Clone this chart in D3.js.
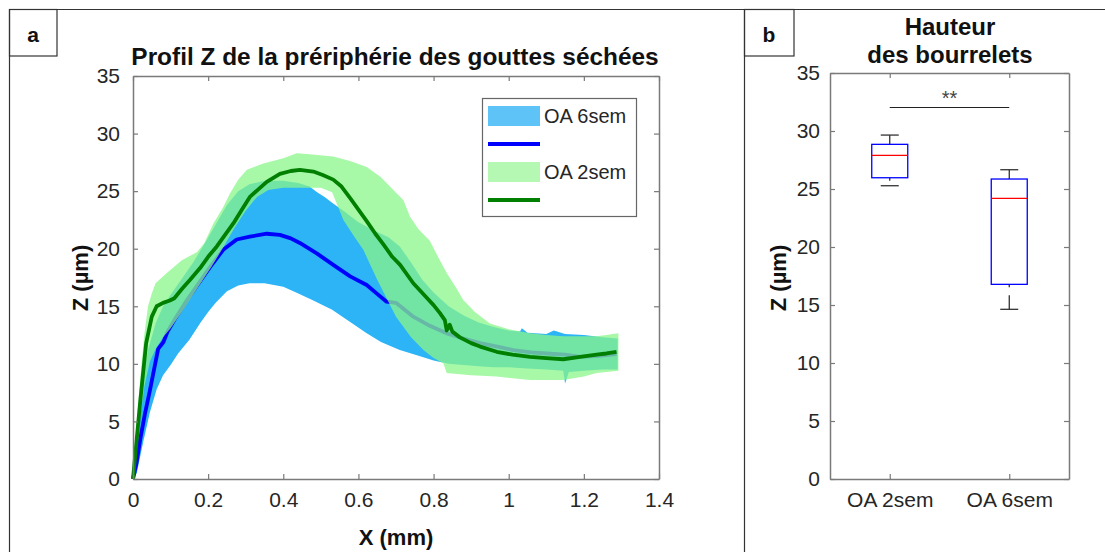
<!DOCTYPE html>
<html>
<head>
<meta charset="utf-8">
<script src="https://cdn.jsdelivr.net/npm/d3@7"></script>
<style>
  html, body { margin: 0; padding: 0; background: #fff; }
  svg { display: block; font-family: "Liberation Sans", Arial, sans-serif; }
</style>
</head>
<body>
<svg id="chart" width="1105" height="552"></svg>
<script>
// ---------- Panel a data : Z profile (X in mm, Z in µm) ----------
const xTicksA = [0, 0.2, 0.4, 0.6, 0.8, 1, 1.2, 1.4];
const yTicks = [0, 5, 10, 15, 20, 25, 30, 35];

const oa6Upper = [[0,0],[0.01,3.5],[0.02,7],[0.03,9.5],[0.04,11.2],[0.06,13.5],[0.08,15],[0.10,16.0],[0.13,17.4],[0.16,18.8],[0.19,20.4],[0.22,22.1],[0.25,23.8],[0.28,25.0],[0.31,25.6],[0.35,25.9],[0.40,25.9],[0.44,25.7],[0.47,25.4],[0.49,24.9],[0.51,24.5],[0.53,24.0],[0.56,23.3],[0.60,22.3],[0.64,21.6],[0.68,21.0],[0.71,20.2],[0.74,18.8],[0.77,17.3],[0.80,16.2],[0.84,15.0],[0.88,14.2],[0.92,13.6],[0.96,13.2],[1.00,12.9],[1.03,12.8],[1.035,13.1],[1.05,12.7],[1.10,12.6],[1.12,12.9],[1.15,12.6],[1.20,12.5],[1.25,12.3],[1.29,12.2]];
const oa6Lower = [[0,0],[0.01,0.5],[0.027,3.2],[0.045,5.8],[0.063,7.8],[0.08,9.0],[0.10,9.9],[0.12,10.9],[0.15,12.1],[0.18,13.6],[0.20,14.5],[0.22,15.3],[0.25,16.3],[0.28,16.8],[0.31,17.0],[0.35,17.0],[0.40,16.7],[0.44,16.1],[0.48,15.5],[0.53,14.7],[0.58,13.6],[0.62,12.7],[0.66,11.9],[0.71,11.2],[0.76,10.7],[0.80,10.3],[0.84,10.0],[0.88,9.9],[0.92,9.8],[0.96,9.7],[1.00,9.7],[1.05,9.6],[1.10,9.5],[1.145,9.4],[1.15,8.3],[1.16,9.3],[1.20,9.4],[1.25,9.5],[1.29,9.5]];
const oa6Mean = [[0,0],[0.01,1.5],[0.019,3.4],[0.032,5.7],[0.045,7.7],[0.059,10.0],[0.067,11.3],[0.081,11.9],[0.092,12.8],[0.11,13.8],[0.143,15.5],[0.175,17.0],[0.205,18.4],[0.24,19.9],[0.276,20.8],[0.311,21.05],[0.356,21.3],[0.391,21.2],[0.42,20.9],[0.444,20.5],[0.489,19.6],[0.533,18.6],[0.578,17.6],[0.622,16.85],[0.649,16.1],[0.675,15.4],[0.70,15.3],[0.746,14.1],[0.79,13.3],[0.835,12.65],[0.88,12.2],[0.924,11.8],[0.97,11.5],[1.012,11.2],[1.06,11.0],[1.101,10.9],[1.15,10.8],[1.19,10.6],[1.24,10.7],[1.287,10.85]];

const oa2Upper = [[0,0],[0.01,5],[0.02,9],[0.03,12.5],[0.04,15.0],[0.05,16.1],[0.06,17.0],[0.09,17.9],[0.13,19.0],[0.17,19.7],[0.19,20.5],[0.214,22.2],[0.24,23.6],[0.258,24.8],[0.28,26.0],[0.303,26.85],[0.347,27.4],[0.40,27.85],[0.436,28.3],[0.47,28.2],[0.533,28.0],[0.58,27.6],[0.622,27.1],[0.66,26.2],[0.693,25.1],[0.72,24.2],[0.737,22.8],[0.76,21.7],[0.79,20.7],[0.81,19.4],[0.835,17.9],[0.86,16.6],[0.879,15.55],[0.91,14.5],[0.95,13.5],[1.00,13.0],[1.057,12.65],[1.10,12.5],[1.145,12.4],[1.19,12.4],[1.234,12.4],[1.26,12.5],[1.292,12.65]];
const oa2Lower = [[0,0],[0.01,2.5],[0.02,5.5],[0.03,8],[0.045,10.2],[0.06,11.3],[0.08,12.3],[0.10,13.1],[0.13,14.5],[0.16,16.0],[0.19,17.5],[0.21,18.5],[0.24,20.1],[0.27,21.8],[0.30,23.3],[0.33,24.5],[0.36,25.1],[0.40,25.3],[0.45,25.3],[0.50,25.3],[0.53,24.9],[0.56,22.5],[0.59,21.0],[0.613,19.9],[0.65,17.3],[0.70,14.1],[0.74,12.3],[0.773,11.2],[0.80,10.5],[0.826,10.05],[0.835,9.2],[0.90,9.0],[0.968,8.9],[1.057,8.6],[1.10,8.6],[1.145,8.6],[1.20,8.9],[1.234,9.2],[1.292,9.4]];
const oa2Mean = [[0,0],[0.01,3.5],[0.02,7],[0.035,11.8],[0.05,14.1],[0.063,15.0],[0.08,15.3],[0.098,15.5],[0.11,15.7],[0.13,16.5],[0.152,17.3],[0.178,18.3],[0.20,19.3],[0.223,20.2],[0.245,21.2],[0.267,22.2],[0.29,23.4],[0.311,24.5],[0.335,25.2],[0.356,25.8],[0.391,26.5],[0.42,26.75],[0.444,26.85],[0.48,26.7],[0.505,26.4],[0.533,26.0],[0.555,25.4],[0.578,24.4],[0.60,23.4],[0.622,22.4],[0.645,21.3],[0.666,20.4],[0.69,19.3],[0.711,18.6],[0.746,17.0],[0.78,15.8],[0.80,15.1],[0.817,14.4],[0.83,13.8],[0.835,12.9],[0.843,13.4],[0.85,12.8],[0.87,12.3],[0.90,11.8],[0.924,11.5],[0.968,11.05],[1.01,10.8],[1.057,10.6],[1.10,10.5],[1.145,10.4],[1.19,10.6],[1.234,10.8],[1.26,10.9],[1.287,11.05]];

const legendLabels = ["OA 6sem", "", "OA 2sem", ""];

// ---------- Panel b data : box plot ----------
const boxGroups = ["OA 2sem", "OA 6sem"];
const boxWhiskerLow = [25.28, 14.63];
const boxQ1 = [25.97, 16.78];
const boxMedian = [27.9, 24.2];
const boxQ3 = [28.85, 25.86];
const boxWhiskerHigh = [29.65, 26.66];
const signifLabel = "**";

// ---------- drawing ----------
const svg = d3.select("#chart");
const FONT = '"Liberation Sans", Arial, sans-serif';
const AX = "#7a7a7a", TXT = "#262626";

// frame
const frame = svg.append("g").attr("fill", "none").attr("stroke", "#333").attr("stroke-width", 1.2);
frame.append("line").attr("x1", 9).attr("x2", 1105).attr("y1", 9.5).attr("y2", 9.5);
frame.append("line").attr("x1", 9.5).attr("x2", 9.5).attr("y1", 9).attr("y2", 552);
frame.append("line").attr("x1", 744.5).attr("x2", 744.5).attr("y1", 9).attr("y2", 552);
frame.append("rect").attr("x", 9.5).attr("y", 9.5).attr("width", 47.5).attr("height", 46.5);
frame.append("rect").attr("x", 744.5).attr("y", 9.5).attr("width", 49.5).attr("height", 46.5);
svg.append("text").attr("x", 33).attr("y", 42).attr("text-anchor", "middle")
  .attr("font-weight", "bold").attr("font-size", 21).attr("fill", "#111").text("a");
svg.append("text").attr("x", 769).attr("y", 42).attr("text-anchor", "middle")
  .attr("font-weight", "bold").attr("font-size", 21).attr("fill", "#111").text("b");

function styleAxis(g) {
  g.selectAll(".domain").attr("stroke", AX).attr("stroke-width", 1.5);
  g.selectAll(".tick line").attr("stroke", AX).attr("stroke-width", 1.2);
  g.selectAll(".tick text").attr("fill", TXT).attr("font-size", 21).attr("font-family", FONT);
}

// ===== Panel a =====
const xA = d3.scaleLinear().domain([0, 1.4]).range([133, 659]);
const yA = d3.scaleLinear().domain([0, 35]).range([479, 76]);

const area = (upper, lower) => {
  const pts = upper.concat(lower.slice().reverse());
  return d3.line().x(d => xA(d[0])).y(d => yA(d[1]))(pts) + "Z";
};
const line = d3.line().x(d => xA(d[0])).y(d => yA(d[1]));

const plotA = svg.append("g");
plotA.append("path").attr("d", area(oa6Upper, oa6Lower)).attr("fill", "#2cb4f6");
plotA.append("path").attr("d", line(oa6Mean)).attr("fill", "none").attr("stroke", "#0000ff").attr("stroke-width", 3.8).attr("stroke-linejoin", "round");
plotA.append("path").attr("d", area(oa2Upper, oa2Lower)).attr("fill", "#8af58a").attr("fill-opacity", 0.75);
plotA.append("path").attr("d", line(oa2Mean)).attr("fill", "none").attr("stroke", "#007f00").attr("stroke-width", 3.8).attr("stroke-linejoin", "round");

const axA = svg.append("g");
axA.append("g").attr("transform", "translate(0,479)")
  .call(d3.axisBottom(xA).tickValues(xTicksA).tickFormat(d3.format("")).tickSize(-5).tickSizeOuter(0).tickPadding(13))
  .call(styleAxis);
axA.append("g").attr("transform", "translate(0,76)")
  .call(d3.axisTop(xA).tickValues(xTicksA).tickFormat("").tickSize(-5).tickSizeOuter(0))
  .call(styleAxis);
axA.append("g").attr("transform", "translate(133,0)")
  .call(d3.axisLeft(yA).tickValues(yTicks).tickSize(-5).tickSizeOuter(0).tickPadding(13))
  .call(styleAxis);
axA.append("g").attr("transform", "translate(659,0)")
  .call(d3.axisRight(yA).tickValues(yTicks).tickFormat("").tickSize(-5).tickSizeOuter(0))
  .call(styleAxis);

svg.append("text").attr("x", 395).attr("y", 65).attr("text-anchor", "middle")
  .attr("font-weight", "bold").attr("font-size", 24.4).attr("fill", "#111")
  .text("Profil Z de la prériphérie des gouttes séchées");
svg.append("text").attr("x", 396).attr("y", 545).attr("text-anchor", "middle")
  .attr("font-weight", "bold").attr("font-size", 22).attr("fill", "#111").text("X (mm)");
svg.append("text").attr("transform", "translate(88,278) rotate(-90)").attr("text-anchor", "middle")
  .attr("font-weight", "bold").attr("font-size", 22).attr("fill", "#111").text("Z (µm)");

// legend
const leg = svg.append("g");
leg.append("rect").attr("x", 482.5).attr("y", 98.5).attr("width", 154).attr("height", 118)
  .attr("fill", "#fff").attr("stroke", "#666").attr("stroke-width", 1.2);
const legRows = [106, 144, 162, 200];
leg.append("rect").attr("x", 488).attr("y", legRows[0]).attr("width", 52).attr("height", 20).attr("fill", "#5ec4f7");
leg.append("line").attr("x1", 488).attr("x2", 540).attr("y1", legRows[1]).attr("y2", legRows[1]).attr("stroke", "#0000ff").attr("stroke-width", 4);
leg.append("rect").attr("x", 488).attr("y", legRows[2]).attr("width", 52).attr("height", 20).attr("fill", "#b4f8b4");
leg.append("line").attr("x1", 488).attr("x2", 540).attr("y1", legRows[3]).attr("y2", legRows[3]).attr("stroke", "#007f00").attr("stroke-width", 4);
leg.selectAll("text.lab").data(legendLabels).enter().append("text").attr("class", "lab")
  .attr("x", 544).attr("y", (d, i) => i === 0 ? 123 : i === 2 ? 179 : 0)
  .attr("font-size", 20).attr("fill", TXT).text(d => d);

// ===== Panel b =====
const xB = d3.scaleLinear().domain([0.5, 2.5]).range([830, 1069]);
const yB = d3.scaleLinear().domain([0, 35]).range([479, 73]);

const axB = svg.append("g");
axB.append("g").attr("transform", "translate(0,479)")
  .call(d3.axisBottom(xB).tickValues([1, 2]).tickFormat((d, i) => boxGroups[i]).tickSize(-5).tickSizeOuter(0).tickPadding(13))
  .call(styleAxis);
axB.append("g").attr("transform", "translate(0,73)")
  .call(d3.axisTop(xB).tickValues([1, 2]).tickFormat("").tickSize(-5).tickSizeOuter(0))
  .call(styleAxis);
axB.append("g").attr("transform", "translate(830,0)")
  .call(d3.axisLeft(yB).tickValues(yTicks).tickSize(-5).tickSizeOuter(0).tickPadding(10))
  .call(styleAxis);
axB.append("g").attr("transform", "translate(1069,0)")
  .call(d3.axisRight(yB).tickValues(yTicks).tickFormat("").tickSize(-5).tickSizeOuter(0))
  .call(styleAxis);

const boxW = 36;
const boxes = svg.append("g");
boxGroups.forEach((g, i) => {
  const cx = xB(i + 1);
  // whiskers (dashed)
  boxes.append("line").attr("x1", cx).attr("x2", cx).attr("y1", yB(boxQ3[i])).attr("y2", yB(boxWhiskerHigh[i]))
    .attr("stroke", "#222").attr("stroke-width", 1.2).attr("stroke-dasharray", "9,5");
  boxes.append("line").attr("x1", cx).attr("x2", cx).attr("y1", yB(boxQ1[i])).attr("y2", yB(boxWhiskerLow[i]))
    .attr("stroke", "#222").attr("stroke-width", 1.2).attr("stroke-dasharray", "3,8,14");
  [boxWhiskerHigh[i], boxWhiskerLow[i]].forEach(v => {
    boxes.append("line").attr("x1", cx - boxW / 4).attr("x2", cx + boxW / 4).attr("y1", yB(v)).attr("y2", yB(v))
      .attr("stroke", "#222").attr("stroke-width", 1.2);
  });
  boxes.append("rect").attr("x", cx - boxW / 2).attr("y", yB(boxQ3[i])).attr("width", boxW)
    .attr("height", yB(boxQ1[i]) - yB(boxQ3[i])).attr("fill", "none").attr("stroke", "#0000ff").attr("stroke-width", 1.3);
  boxes.append("line").attr("x1", cx - boxW / 2).attr("x2", cx + boxW / 2).attr("y1", yB(boxMedian[i])).attr("y2", yB(boxMedian[i]))
    .attr("stroke", "#ff0000").attr("stroke-width", 1.2);
});

// significance
svg.append("line").attr("x1", xB(1)).attr("x2", xB(2)).attr("y1", 107.5).attr("y2", 107.5).attr("stroke", "#222").attr("stroke-width", 1.2);
svg.append("text").attr("x", (xB(1) + xB(2)) / 2).attr("y", 105).attr("text-anchor", "middle")
  .attr("font-size", 20).attr("fill", "#444").text(signifLabel);

svg.append("text").attr("x", 950).attr("y", 35).attr("text-anchor", "middle")
  .attr("font-weight", "bold").attr("font-size", 24).attr("fill", "#111").text("Hauteur");
svg.append("text").attr("x", 950).attr("y", 63).attr("text-anchor", "middle")
  .attr("font-weight", "bold").attr("font-size", 24).attr("fill", "#111").text("des bourrelets");
svg.append("text").attr("transform", "translate(786,278) rotate(-90)").attr("text-anchor", "middle")
  .attr("font-weight", "bold").attr("font-size", 22).attr("fill", "#111").text("Z (µm)");
</script>
</body>
</html>
